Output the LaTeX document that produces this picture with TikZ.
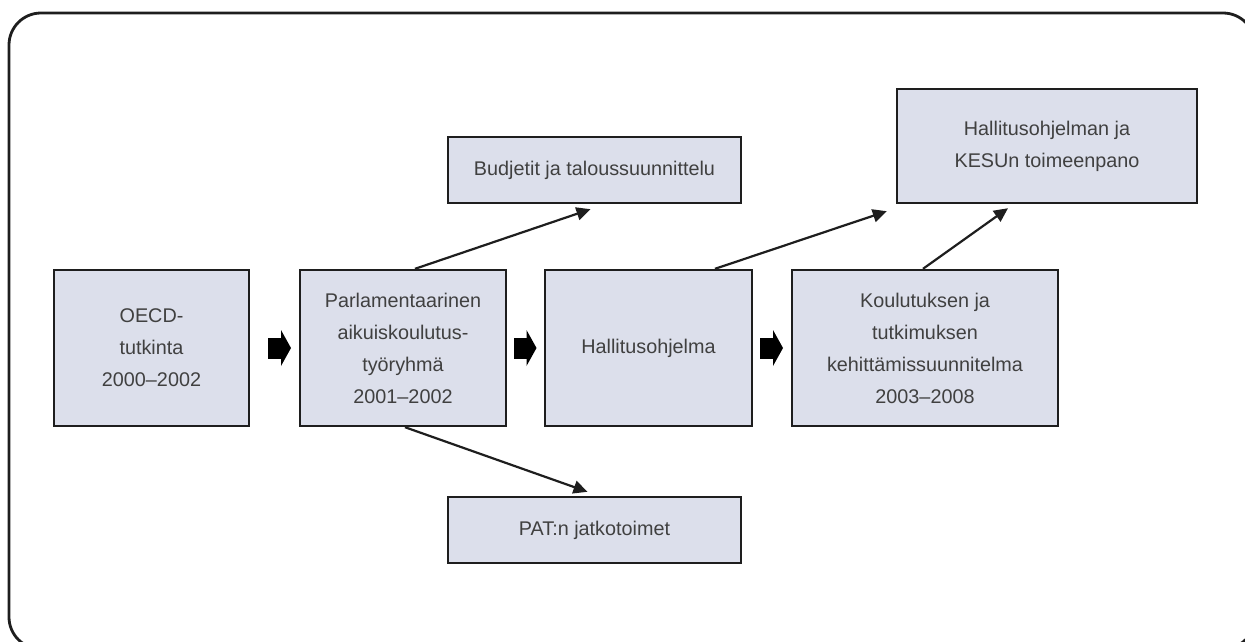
\documentclass[tikz,border=0pt]{standalone}
\usepackage{fontspec}
\setmainfont{Liberation Sans}
\usetikzlibrary{calc,arrows.meta}
\definecolor{boxfill}{RGB}{220,223,235}
\definecolor{boxtext}{RGB}{64,64,64}
\definecolor{ink}{RGB}{30,30,30}
\begin{document}
\begin{tikzpicture}[x=1pt,y=-1pt,
  stagebox/.style={draw=ink,line width=2.4pt,fill=boxfill,inner sep=0pt,
    align=center,text=boxtext,font=\fontsize{19.8}{32}\selectfont},
  flow/.style={draw=ink,line width=2.2pt,-{Triangle[length=14pt,width=13pt]}},
  blockarrow/.pic={
    \fill[black] (-11.5,-10.5) rectangle (1.5,10.5);
    \fill[black] (1.5,-18) -- (11.5,0) -- (1.5,18) -- cycle;
  }]
\useasboundingbox (0,0) rectangle (1245,641);
\begin{scope}
  \clip (0,0) rectangle (1245,641);
  \draw[ink,line width=2.8pt,rounded corners=32pt] (9,13) rectangle (1255,649);
\end{scope}

% main row
\node[stagebox,minimum width=195pt,minimum height=156pt] (oecd) at (151.5,348)
  {OECD-\\tutkinta\\2000–2002};
\node[stagebox,minimum width=206pt,minimum height=156pt] (parl) at (403,348)
  {Parlamentaarinen\\aikuiskoulutus-\\työryhmä\\2001–2002};
\node[stagebox,minimum width=207pt,minimum height=156pt] (hall) at (648.5,348)
  {Hallitusohjelma};
\node[stagebox,minimum width=266pt,minimum height=156pt] (kehit) at (925,348)
  {Koulutuksen ja\\tutkimuksen\\kehittämissuunnitelma\\2003–2008};

% side boxes
\node[stagebox,minimum width=293pt,minimum height=66pt] (budj) at (594.5,170)
  {Budjetit ja taloussuunnittelu};
\node[stagebox,minimum width=293pt,minimum height=66pt] (pat) at (594.5,530)
  {PAT:n jatkotoimet};
\node[stagebox,minimum width=300pt,minimum height=114pt] (toim) at (1047,146)
  {Hallitusohjelman ja\\KESUn toimeenpano};

% block arrows between the main stages
\pic at ($(oecd.east)!0.5!(parl.west)+(5,0)$) {blockarrow};
\pic at ($(parl.east)!0.5!(hall.west)+(-0.5,0)$) {blockarrow};
\pic at ($(hall.east)!0.5!(kehit.west)+(-0.5,0)$) {blockarrow};

% thin connectors
\draw[flow] ($(parl.north)+(12,0)$) -- ($(budj.south)+(-4,5)$);
\draw[flow] ($(parl.south)+(2,0)$) -- ($(pat.north)+(-7,-4)$);
\draw[flow] ($(hall.north)+(66.5,0)$) -- ($(toim.south west)+(-9,7)$);
\draw[flow] ($(kehit.north)+(-2,0)$) -- ($(toim.south)+(-39,4)$);
\end{tikzpicture}
\end{document}
